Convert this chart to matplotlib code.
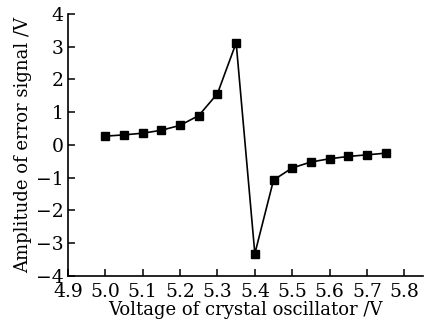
import numpy as np
from matplotlib import pyplot as plt

# tensione dell'oscillatore e ampiezza del segnale d'errore
voltage = [5.00, 5.05, 5.10, 5.15, 5.20, 5.25, 5.30, 5.35,
           5.40, 5.45, 5.50, 5.55, 5.60, 5.65, 5.70, 5.75]
error_amp = [0.27, 0.31, 0.36, 0.45, 0.60, 0.90, 1.57, 3.12,
             -3.32, -1.07, -0.70, -0.52, -0.42, -0.35, -0.30, -0.25]

plt.rcParams['font.family'] = 'DejaVu Serif'

fig = plt.figure(figsize=(4.32, 3.30), dpi=100)
ax = fig.add_axes([68/432, 1 - 276/330, (423-68)/432, (276-14)/330])

ax.plot(voltage, error_amp, '-', color='black', lw=1.2,
        marker='s', ms=5.5, mfc='black', mec='black')

ax.set_xlim(4.9, 5.85)
ax.set_ylim(-4, 4)
ax.set_xticks(np.arange(4.9, 5.81, 0.1))
ax.set_xticklabels(['%.1f' % v for v in np.arange(4.9, 5.81, 0.1)])
ax.set_yticks(range(-4, 5))
ax.set_yticklabels([str(v).replace('-', '\u2212') for v in range(-4, 5)])

for s in ['top', 'right']:
    ax.spines[s].set_visible(False)
for s in ['left', 'bottom']:
    ax.spines[s].set_linewidth(1.2)
ax.tick_params(direction='in', length=5, width=1.1, labelsize=13.5)
ax.tick_params(axis='x', pad=5)
ax.tick_params(axis='y', pad=3)

ax.set_xlabel('Voltage of crystal oscillator /V', fontsize=13, labelpad=0)
ax.set_ylabel('Amplitude of error signal /V', fontsize=13, labelpad=3)

fig.savefig('out.png', dpi=100)
